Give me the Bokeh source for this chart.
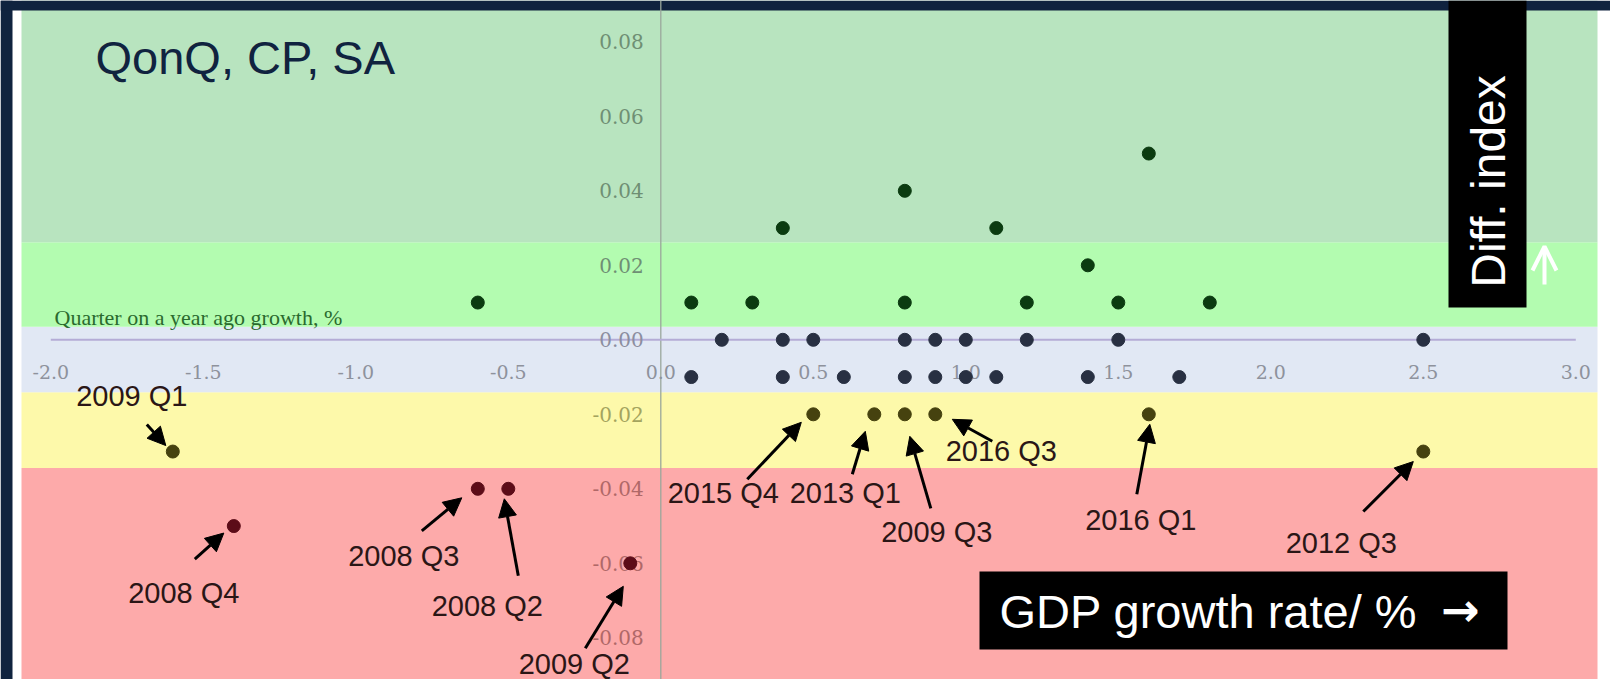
import math
from bokeh.plotting import figure
from bokeh.models import (BoxAnnotation, Span, Arrow, NormalHead, OpenHead,
                          Label, ColumnDataSource)
from bokeh.core.properties import value
from bokeh.embed import file_html
from bokeh.resources import INLINE

# ---------------- data ----------------
# points in the green zones (diffusion index > 0)
green_x = [1.6, 0.8, 0.4, 1.1, 1.4, -0.6, 0.1, 0.3, 0.8, 1.2, 1.5, 1.8]
green_y = [0.05, 0.04, 0.03, 0.03, 0.02, 0.01, 0.01, 0.01, 0.01, 0.01, 0.01, 0.01]
# points on the zero line
zero_x = [0.2, 0.4, 0.5, 0.8, 0.9, 1.0, 1.2, 1.5, 2.5]
zero_y = [0.0, 0.0, 0.0, 0.0, 0.0, 0.0, 0.0, 0.0, 0.0]
# points just below zero
minus_x = [0.1, 0.4, 0.6, 0.8, 0.9, 1.0, 1.1, 1.4, 1.7]
minus_y = [-0.01, -0.01, -0.01, -0.01, -0.01, -0.01, -0.01, -0.01, -0.01]
# labelled quarters (yellow and red zones)
quarter_labels = ["2009 Q1", "2008 Q4", "2008 Q3", "2008 Q2", "2009 Q2",
                  "2015 Q4", "2013 Q1", "2009 Q3", "2016 Q3", "2016 Q1", "2012 Q3"]
quarter_x = [-1.6, -1.4, -0.6, -0.5, -0.1, 0.5, 0.7, 0.8, 0.9, 1.6, 2.5]
quarter_y = [-0.03, -0.05, -0.04, -0.04, -0.06, -0.02, -0.02, -0.02, -0.02, -0.02, -0.03]

x_ticks = [-2.0, -1.5, -1.0, -0.5, 0.0, 0.5, 1.0, 1.5, 2.0, 2.5, 3.0]
x_tick_labels = ["-2.0", "-1.5", "-1.0", "-0.5", "0.0", "0.5", "1.0", "1.5", "2.0", "2.5", "3.0"]
y_ticks = [0.08, 0.06, 0.04, 0.02, 0.0, -0.02, -0.04, -0.06, -0.08]
y_tick_labels = ["0.08", "0.06", "0.04", "0.02", "0.00", "-0.02", "-0.04", "-0.06", "-0.08"]

# zone boundaries of the diffusion index
band_edges = [-0.0344, -0.0141, 0.0035, 0.0262]

title_text = "QonQ, CP, SA"
subtitle_text = "Quarter on a year ago growth, %"
y_title = "Diff. index"
x_title = "GDP growth rate/ %"
x_title_arrow = "\u2192"

# ---------------- layout / style ----------------
FIG_W, FIG_H = 1610, 679
OX, OY = 660.3, 339.3        # page px of data origin
SX, SY = 305.0, 3725.0       # px per data unit


def dx(px):
    return (px - OX) / SX


def dy(py):
    return (OY - py) / SY


x_range = (dx(0), dx(FIG_W))
y_range = (dy(FIG_H), dy(0))

band_colors = ["#fdaaaa", "#fdf9aa", "#e1e8f4", "#b3fcb0", "#b8e4bf"]
NAVY = "#10233f"


def band_index(v):
    i = 0
    for e in band_edges:
        if v > e:
            i += 1
    return i


dot_palette = ["#5c0c18", "#46420f", "#283042", "#0b3b10", "#0b3b10"]
ytick_palette = ["#b06868", "#a4a45e", "#8c8ea0", "#6f8f74", "#6f8f74"]

# label offsets in screen px: text centre, arrow start, arrow end (relative to point)
label_dx = [-41, -50, -74, -21, -56, -90, -29, 32, 66, -8, -82]
label_dy = [-56, 67, 67, 117, 101, 79, 79, 118, 37, 106, 91]
arr_sx = [-26, -39, -56, 10, -45, -66, -22, 26, 57, -12, -60]
arr_sy = [-27, 33, 42, 87, 85, 65, 60, 94, 27, 80, 60]
arr_ex = [-7, -10, -16, -4, -7, -12, -9, 5, 17, 1, -10]
arr_ey = [-6, 7, 9, 10, 23, 8, 17, 22, 5, 10, 10]

p = figure(width=FIG_W, height=FIG_H, output_backend="svg", toolbar_location=None,
           x_range=x_range, y_range=y_range,
           x_axis_location=None, y_axis_location=None,
           min_border_left=0, min_border_right=0, min_border_top=0, min_border_bottom=0,
           background_fill_color="white", border_fill_color="white",
           outline_line_color=None)
p.grid.visible = False

# zone bands
edges = [y_range[0]] + band_edges + [y_range[1]]
for i, c in enumerate(band_colors):
    p.add_layout(BoxAnnotation(left=dx(21), right=dx(1597),
                               bottom=edges[i], top=edges[i + 1], fill_color=c,
                               fill_alpha=1.0, line_alpha=0, level="underlay"))
# slide frame strips
p.add_layout(BoxAnnotation(left=x_range[0], right=dx(12), bottom=y_range[0], top=y_range[1],
                           fill_color=NAVY, fill_alpha=1.0, line_alpha=0, level="underlay"))
p.add_layout(BoxAnnotation(left=x_range[0], right=x_range[1], bottom=dy(10), top=y_range[1],
                           fill_color=NAVY, fill_alpha=1.0, line_alpha=0, level="underlay"))

# axes lines
p.add_layout(Span(location=0, dimension="height", line_color="#9aa79c",
                  line_width=1.3, level="underlay"))
p.line(x=[x_ticks[0], x_ticks[-1]], y=[0, 0], line_color="#b4acd6", line_width=2)

# tick labels
p.text(x=x_ticks, y=[0] * len(x_ticks), text=x_tick_labels, y_offset=32,
       text_align="center", text_baseline="middle",
       text_font=value("DejaVu Serif"), text_font_size="19px", text_color="#8e929c")
p.text(x=[0] * len(y_ticks), y=y_ticks, text=y_tick_labels, x_offset=-17,
       text_align="right", text_baseline="middle",
       text_font=value("DejaVu Serif"), text_font_size="20px",
       text_color=[ytick_palette[band_index(v)] for v in y_ticks])

# dots
dot_size = 13
p.scatter(green_x, green_y, size=dot_size, color=[dot_palette[band_index(v)] for v in green_y])
p.scatter(zero_x, zero_y, size=dot_size, color=dot_palette[2])
p.scatter(minus_x, minus_y, size=dot_size, color=dot_palette[2])
p.scatter(quarter_x, quarter_y, size=dot_size,
          color=[dot_palette[band_index(v)] for v in quarter_y])

# quarter labels
lab_src = ColumnDataSource(dict(x=quarter_x, y=quarter_y, text=quarter_labels,
                                xo=label_dx, yo=label_dy))
p.text(x="x", y="y", text="text", x_offset="xo", y_offset="yo", source=lab_src,
       text_align="center", text_baseline="middle",
       text_font=value("Liberation Sans"), text_font_size="29px", text_color="#2a1616")

arr_src = ColumnDataSource(dict(
    xs=[x + a / SX for x, a in zip(quarter_x, arr_sx)],
    ys=[y - b / SY for y, b in zip(quarter_y, arr_sy)],
    xe=[x + a / SX for x, a in zip(quarter_x, arr_ex)],
    ye=[y - b / SY for y, b in zip(quarter_y, arr_ey)],
))
p.add_layout(Arrow(x_start="xs", y_start="ys", x_end="xe", y_end="ye", source=arr_src,
                   line_color="black", line_width=3,
                   end=NormalHead(size=18, fill_color="black", line_color="black")))

# titles
p.add_layout(Label(x=dx(95), y=dy(57), text=title_text, text_align="left",
                   text_baseline="middle", text_font="Liberation Sans",
                   text_font_size="47px", text_color=NAVY))
p.add_layout(Label(x=dx(54), y=dy(317), text=subtitle_text, text_align="left",
                   text_baseline="middle", text_font="Liberation Serif",
                   text_font_size="22px", text_color="#2a6a2e"))

# y title box
p.add_layout(BoxAnnotation(left=dx(1448), right=dx(1526), top=y_range[1], bottom=dy(307),
                           fill_color="black", fill_alpha=1.0, line_alpha=0))
p.add_layout(Label(x=dx(1488), y=dy(181), text=y_title, angle=math.pi / 2,
                   text_align="center", text_baseline="middle",
                   text_font="Liberation Sans", text_font_size="48px", text_color="white"))
p.add_layout(Arrow(x_start=dx(1544), y_start=dy(284), x_end=dx(1544), y_end=dy(246),
                   line_color="white", line_width=4,
                   end=OpenHead(size=24, line_color="white", line_width=4)))

# x title box
p.add_layout(BoxAnnotation(left=dx(979), right=dx(1507), top=dy(571), bottom=dy(649),
                           fill_color="black", fill_alpha=1.0, line_alpha=0))
p.add_layout(Label(x=dx(999), y=dy(611), text=x_title, text_align="left",
                   text_baseline="middle", text_font="Liberation Sans",
                   text_font_size="47px", text_color="white"))
p.add_layout(Label(x=dx(1460), y=dy(609), text=x_title_arrow, text_align="center",
                   text_baseline="middle", text_font="DejaVu Sans",
                   text_font_style="bold", text_font_size="46px", text_color="white"))

open("out.html", "w").write(file_html(p, INLINE))
